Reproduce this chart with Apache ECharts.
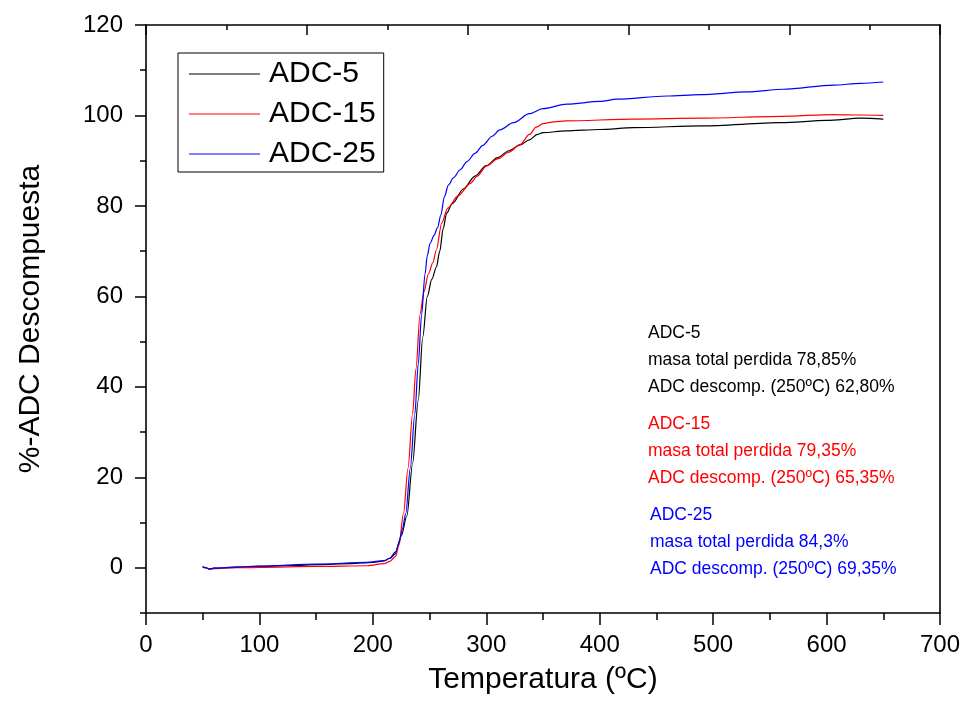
<!DOCTYPE html>
<html>
<head>
<meta charset="utf-8">
<script src="https://cdn.jsdelivr.net/npm/echarts@6/dist/echarts.min.js"></script>
<style>
  html, body { margin: 0; padding: 0; background: #fff; }
  #chart { width: 964px; height: 708px; }
</style>
</head>
<body>
<div id="chart"></div>
<script>
// temperatures (ºC) and % decomposed
const tempAdc5 = [50, 53, 56, 60, 80, 100, 130, 150, 180, 200, 210, 215, 220, 225, 230, 235, 240, 244, 248, 252, 256, 259, 262, 265, 270, 280, 290, 300, 310, 320, 330, 338, 345, 350, 370, 400, 430, 490, 560, 600, 630, 650]
const adc5 = [0.2, 0, -0.3, -0.1, 0.1, 0.3, 0.5, 0.7, 0.9, 1.2, 1.5, 2.1, 3.5, 7, 11.5, 23, 37, 51, 60, 63.8, 66.5, 70, 75, 78.4, 80.5, 83.8, 86.6, 88.9, 90.7, 92.2, 93.5, 94.6, 95.8, 96.2, 96.6, 96.9, 97.3, 97.7, 98.4, 98.9, 99.4, 99.2]

const tempAdc15 = [50, 53, 56, 60, 80, 100, 150, 195, 210, 215, 220, 223, 227, 231, 235, 238, 241.6, 245, 249, 253, 256, 260.7, 266, 275, 286, 292, 300, 310, 320, 330, 338, 344, 350, 360, 370, 430, 490, 560, 606, 630, 650]
const adc15 = [0.2, 0, -0.3, -0.2, 0, 0.1, 0.3, 0.45, 0.9, 1.4, 2.5, 5, 12, 22, 34, 44, 56, 61, 65, 67.5, 70.3, 76.2, 79.5, 82.2, 85, 86.6, 88.8, 90.4, 91.9, 93.6, 95.8, 97.4, 98.2, 98.6, 98.8, 99.2, 99.4, 99.8, 100.2, 100.1, 100.0]

const tempAdc25 = [50, 53, 56, 60, 80, 100, 150, 195, 210, 215, 219.6, 223, 226, 229, 233, 237, 240, 243, 246, 248, 250.4, 254, 257, 260, 263, 266.6, 271, 277, 283, 290, 297, 305, 312, 324, 338, 350, 371, 400, 415, 459, 489, 530, 562, 606, 630, 650]
const adc25 = [0.2, 0, -0.3, -0.1, 0.2, 0.35, 0.8, 1.2, 1.6, 2.1, 3, 5.5, 8.5, 12, 22, 34, 45, 56, 65, 69, 71.7, 73.5, 75.2, 78, 82, 84.6, 86.2, 88, 89.8, 91.6, 93.4, 95.4, 96.8, 98.4, 100.4, 101.5, 102.5, 103.1, 103.6, 104.3, 104.6, 105.2, 105.8, 106.7, 107.1, 107.4]

const seriesNames = ['ADC-5', 'ADC-15', 'ADC-25']
const seriesColors = ['#000000', '#ff0000', '#0000ff']

const yMajorTicks = [0, 20, 40, 60, 80, 100, 120]
const yMinorTicks = [-10, 10, 30, 50, 70, 90, 110]

const notes = [
  { color: '#000000', lines: ['ADC-5', 'masa total perdida 78,85%', 'ADC descomp. (250ºC) 62,80%'] },
  { color: '#ff0000', lines: ['ADC-15', 'masa total perdida 79,35%', 'ADC descomp. (250ºC) 65,35%'] },
  { color: '#0000ff', lines: ['ADC-25', 'masa total perdida 84,3%', 'ADC descomp. (250ºC) 69,35%'] }
]

const font = 'Liberation Sans, Arial, sans-serif'
const pair = (xs, ys) => xs.map((x, i) => [x, ys[i]])
const seriesData = [pair(tempAdc5, adc5), pair(tempAdc15, adc15), pair(tempAdc25, adc25)]

const chart = echarts.init(document.getElementById('chart'))

const noteTops = [334, 425, 516]
const graphic = []
notes.forEach((n, b) => {
  n.lines.forEach((t, i) => {
    graphic.push({
      type: 'text',
      left: b === 2 ? 650 : 648,
      top: noteTops[b] - 10 + i * 27,
      style: { text: t, fill: n.color, font: '17.5px ' + font }
    })
  })
})

const option = {
  animation: false,
  grid: { left: 146, right: 24, top: 25, bottom: 95 },
  legend: {
    data: seriesNames,
    orient: 'vertical',
    left: 178,
    top: 53,
    padding: [6, 8, 3, 11],
    itemGap: 10,
    itemWidth: 71,
    itemHeight: 30,
    icon: 'path://M0,14.4 L71,14.4 L71,15.6 L0,15.6 Z',
    borderColor: '#000',
    borderWidth: 1,
    borderRadius: 0,
    textStyle: { fontSize: 30, fontFamily: font, color: '#000', padding: [0, 0, 0, 4], lineHeight: 30 }
  },
  xAxis: [
    {
      type: 'value',
      min: 0,
      max: 700,
      interval: 100,
      position: 'bottom',
      name: 'Temperatura (ºC)',
      nameLocation: 'middle',
      nameGap: 52,
      nameTextStyle: { fontSize: 30, fontFamily: font, color: '#000' },
      axisLine: { onZero: false, lineStyle: { color: '#000', width: 1.6 } },
      axisTick: { length: 12, lineStyle: { color: '#000', width: 1.5 } },
      minorTick: { show: true, splitNumber: 2, length: 7, lineStyle: { color: '#000', width: 1.5 } },
      axisLabel: { fontSize: 24, fontFamily: font, color: '#000', margin: 20 },
      splitLine: { show: false }
    },
    {
      type: 'value',
      min: 0,
      max: 9.87,
      interval: 2,
      position: 'top',
      axisLine: { onZero: false, lineStyle: { color: '#000', width: 1.6 } },
      axisTick: { inside: true, length: 10, lineStyle: { color: '#000', width: 1.5 } },
      minorTick: { show: true, splitNumber: 2, length: 5, lineStyle: { color: '#000', width: 1.5 } },
      axisLabel: { show: false },
      splitLine: { show: false }
    }
  ],
  yAxis: [
    {
      type: 'value',
      min: -10,
      max: 120,
      position: 'left',
      name: '%-ADC Descompuesta',
      nameLocation: 'middle',
      nameGap: 100,
      nameTextStyle: { fontSize: 30, fontFamily: font, color: '#000' },
      axisLine: { onZero: false, lineStyle: { color: '#000', width: 1.6 } },
      axisTick: { length: 11, customValues: yMajorTicks, lineStyle: { color: '#000', width: 1.5 } },
      axisLabel: { fontSize: 24, fontFamily: font, color: '#000', margin: 23, customValues: yMajorTicks },
      splitLine: { show: false }
    },
    {
      type: 'value',
      min: -10,
      max: 120,
      position: 'left',
      axisLine: { onZero: false, show: false },
      axisTick: { length: 6, customValues: yMinorTicks, lineStyle: { color: '#000', width: 1.5 } },
      axisLabel: { show: false },
      splitLine: { show: false }
    },
    {
      type: 'value',
      min: -10,
      max: 120,
      position: 'right',
      axisLine: { onZero: false, lineStyle: { color: '#000', width: 1.6 } },
      axisTick: { show: false },
      axisLabel: { show: false },
      splitLine: { show: false }
    }
  ],
  series: seriesNames.map((name, i) => ({
    name: name,
    type: 'line',
    xAxisIndex: 0,
    yAxisIndex: 0,
    data: seriesData[i],
    symbol: 'none',
    smooth: 0.3,
    smoothMonotone: 'x',
    lineStyle: { color: seriesColors[i], width: 1.2 },
    itemStyle: { color: seriesColors[i] }
  })),
  graphic: graphic
}

chart.setOption(option)
</script>
</body>
</html>
